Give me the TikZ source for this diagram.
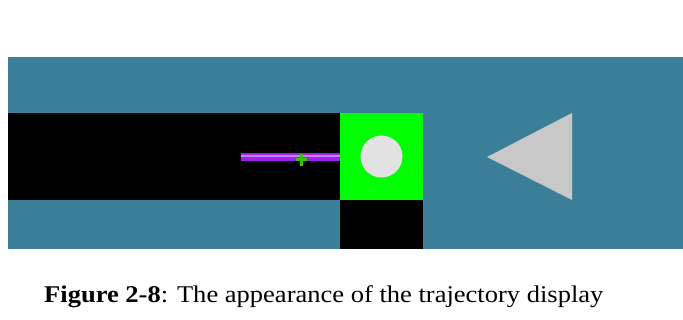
\documentclass[tikz,border=0pt]{standalone}
\usepackage{fontspec}
\setmainfont{Liberation Serif}
\definecolor{teal1}{RGB}{58,127,151}
\definecolor{trigray}{RGB}{200,200,200}
\definecolor{ballgray}{RGB}{226,226,226}
\definecolor{barpurple}{RGB}{160,32,240}
\definecolor{barlight}{RGB}{200,130,255}
\definecolor{plusgreen}{RGB}{50,200,0}
\tikzset{
  panel/.style={fill=teal1, draw=none},
  blk/.style={fill=black, draw=none},
  caption/.style={font=\fontsize{24}{28}\selectfont, anchor=base west, inner sep=0pt, xscale=1.105}
}
\begin{document}
\begin{tikzpicture}[x=1pt,y=-1pt]
\useasboundingbox (0,0) rectangle (683,320);
\fill[white] (0,0) rectangle (683,320);
% panel
\path[panel] (8,57) rectangle (683,249);
% black strip
\path[blk] (8,113) rectangle (340,200);
% green square
\fill[green] (340,113) rectangle (423,200);
% black below green
\path[blk] (340,200) rectangle (423,249);
% ball
\fill[ballgray] (381.5,156.5) circle (21);
% trajectory bar
\fill[barpurple] (241,152.7) rectangle (340,160.7);
\fill[barlight] (241,155) rectangle (340,157);
% plus marker
\draw[plusgreen, line width=3pt] (295.5,160) -- (306.5,160) (301,154) -- (301,166);
% triangle
\fill[trigray] (487,157) -- (572,113) -- (572,200) -- cycle;
% caption
\node[caption] (cap) at (44,303) {\textbf{Figure 2-8}: The appearance of the trajectory display};
\end{tikzpicture}
\end{document}
